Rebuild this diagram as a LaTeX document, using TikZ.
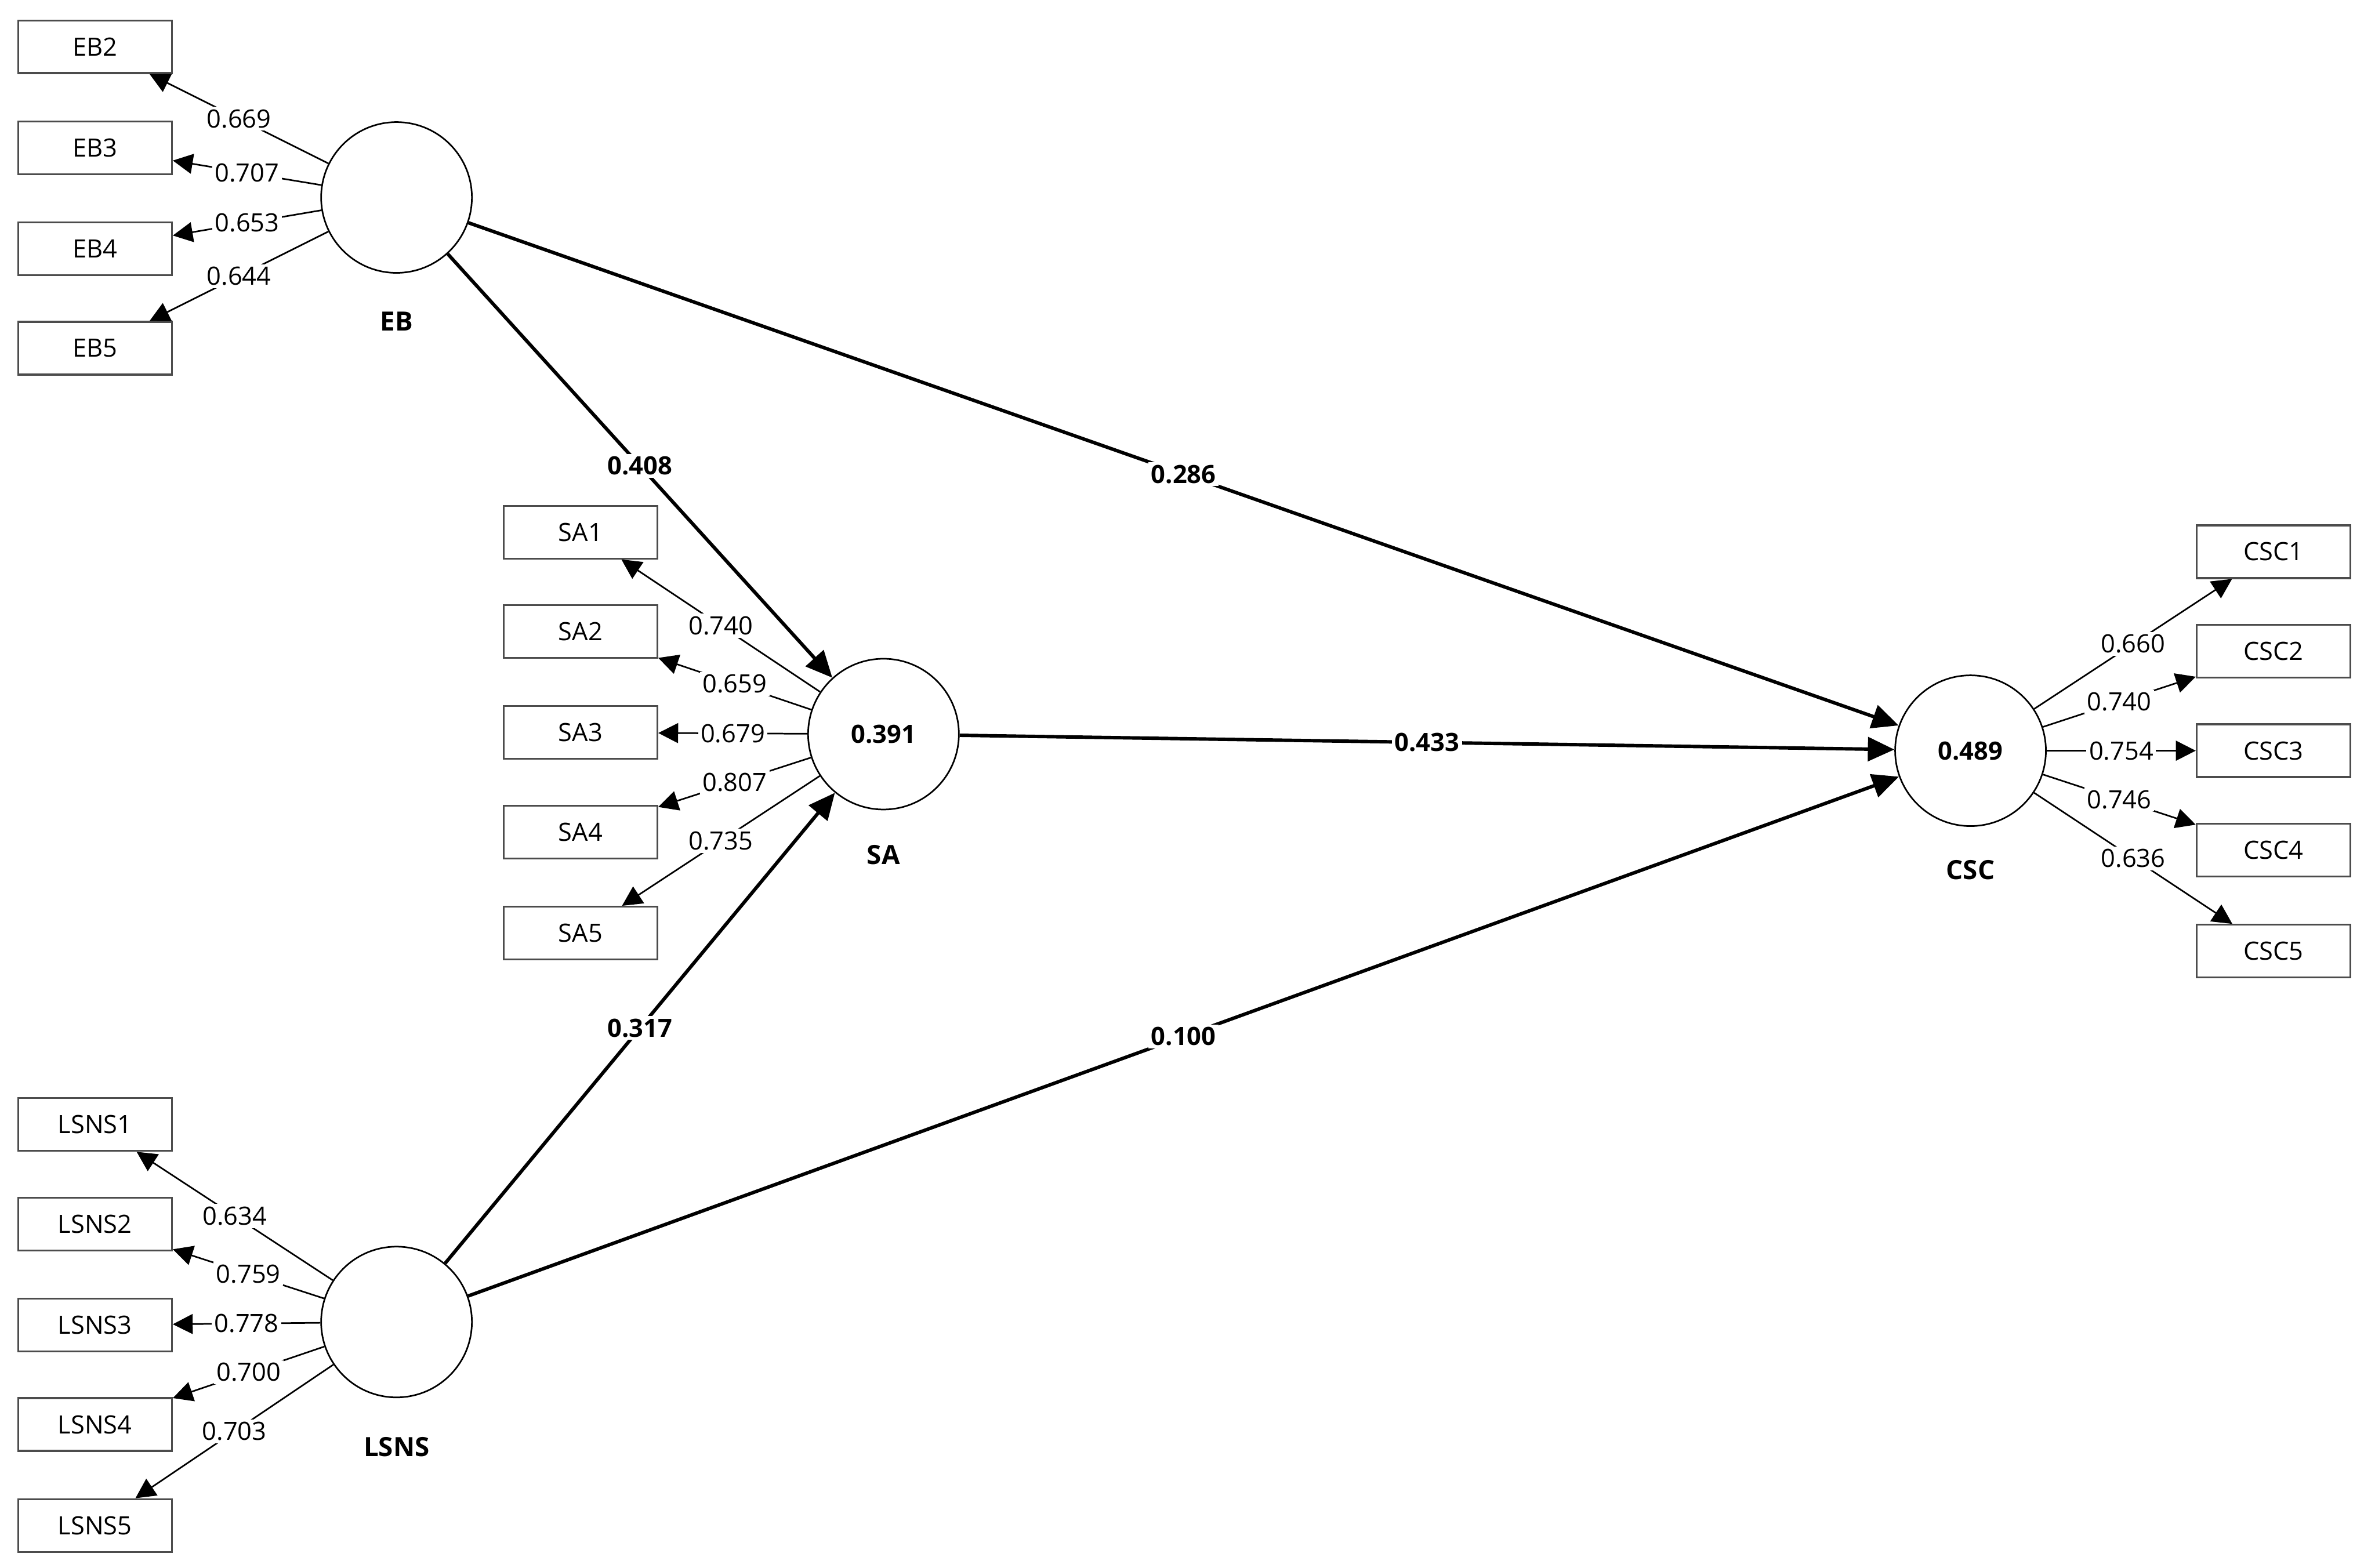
\documentclass[tikz,border=0pt]{standalone}
\usepackage{fontspec}
\setmainfont{Open Sans}
\usetikzlibrary{arrows.meta}

\tikzset{
  indbox/.style={rectangle, draw=black!70, line width=0.7pt, minimum width=20.4mm,
    minimum height=7mm, inner sep=0pt, font=\fontsize{9.5}{11}\selectfont},
  latent/.style={circle, draw, line width=0.6pt, minimum size=20mm, inner sep=0pt,
    font=\bfseries\fontsize{9.5}{11}\selectfont},
  lname/.style={font=\bfseries\fontsize{10}{12}\selectfont},
  loading/.style={-{Triangle[length=7.5pt,width=7.5pt]}, line width=0.6pt},
  struct/.style={-{Triangle[length=10pt,width=9pt]}, line width=1.3pt},
  lbl/.style={fill=white, inner sep=1pt, font=\fontsize{9.5}{11}\selectfont},
  plbl/.style={fill=white, inner sep=1pt, font=\bfseries\fontsize{9.5}{11}\selectfont}
}

\begin{document}
\begin{tikzpicture}[x=0.2mm, y=-0.2mm]
  \useasboundingbox (0,0) rectangle (1568,1040);

  % latent variables
  \node[latent] (EB) at (263,131) {};
  \node[latent] (SA) at (586,487) {0.391};
  \node[latent] (CSC) at (1307,498) {0.489};
  \node[latent] (LSNS) at (263,877) {};
  \node[lname] (EBname) at (263,213) {EB};
  \node[lname] (SAname) at (586,567) {SA};
  \node[lname] (CSCname) at (1307,577) {CSC};
  \node[lname] (LSNSname) at (263,960) {LSNS};

  % indicators
  \foreach \n/\y/\v in {2/31/0.669, 3/98/0.707, 4/165/0.653, 5/231/0.644}{
    \node[indbox] (EB\n) at (63,\y) {EB\n};
    \draw[loading] (EB) -- node[lbl] {\v} (EB\n);
  }
  \foreach \n/\y/\v in {1/353/0.740, 2/419/0.659, 3/486/0.679, 4/552/0.807, 5/619/0.735}{
    \node[indbox] (SA\n) at (385,\y) {SA\n};
    \draw[loading] (SA) -- node[lbl] {\v} (SA\n);
  }
  \foreach \n/\y/\v in {1/366/0.660, 2/432/0.740, 3/498/0.754, 4/564/0.746, 5/631/0.636}{
    \node[indbox] (CSC\n) at (1508,\y) {CSC\n};
    \draw[loading] (CSC) -- node[lbl] {\v} (CSC\n);
  }
  \foreach \n/\y/\v in {1/746/0.634, 2/812/0.759, 3/879/0.778, 4/945/0.700, 5/1012/0.703}{
    \node[indbox] (LSNS\n) at (63,\y) {LSNS\n};
    \draw[loading] (LSNS) -- node[lbl] {\v} (LSNS\n);
  }

  % inner model
  \draw[struct] (EB) -- node[plbl] {0.408} (SA);
  \draw[struct] (EB) -- node[plbl] {0.286} (CSC);
  \draw[struct] (SA) -- node[plbl] {0.433} (CSC);
  \draw[struct] (LSNS) -- node[plbl] {0.317} (SA);
  \draw[struct] (LSNS) -- node[plbl] {0.100} (CSC);
\end{tikzpicture}
\end{document}
